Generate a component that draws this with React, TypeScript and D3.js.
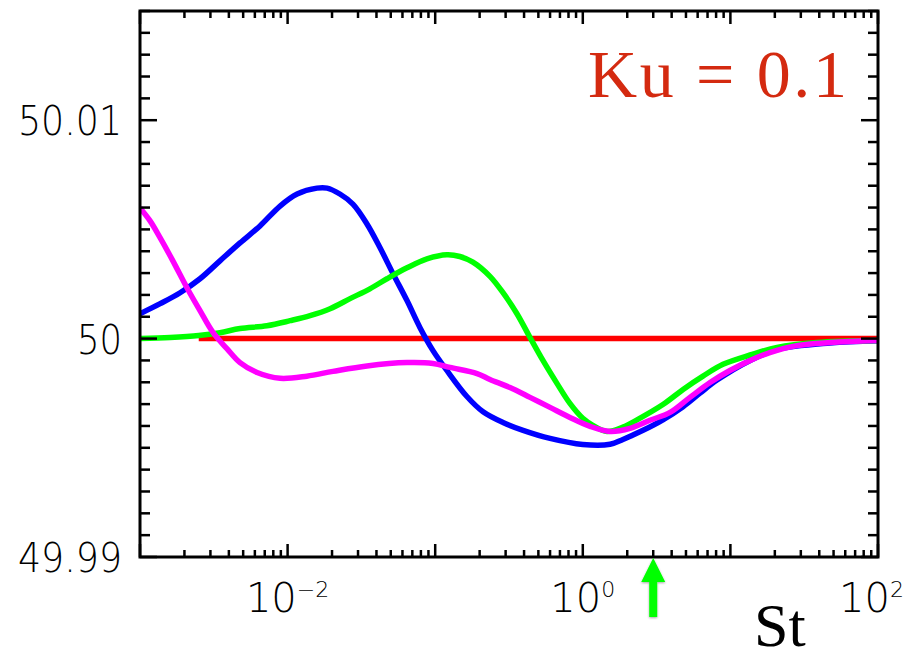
import React from 'react';
import * as d3 from 'd3';

const W = 906;
const H = 659;
const frame = { left: 140, right: 878, top: 11, bottom: 557 };

// St values and deviation from 50 (value - 50) for each curve
const blueSt = [0.001, 0.00137, 0.00187, 0.00255, 0.00348, 0.00476, 0.0065, 0.00889, 0.0116, 0.0158, 0.0185, 0.0226, 0.0277, 0.0345, 0.0423, 0.0518, 0.0644, 0.0789, 0.0966, 0.12, 0.164, 0.211, 0.288, 0.394, 0.6, 1.0, 1.53, 1.87, 2.56, 3.49, 4.78, 6.22, 8.11, 13.6, 20.7, 47.3, 100];
const blueVal = [0.00114, 0.0016, 0.0021, 0.00274, 0.00356, 0.00438, 0.00516, 0.00607, 0.00662, 0.00689, 0.00689, 0.00662, 0.00616, 0.00525, 0.00416, 0.00297, 0.00174, 0.0005, -0.00055, -0.00146, -0.00265, -0.00335, -0.00384, -0.0042, -0.00457, -0.00485, -0.00484, -0.00462, -0.0042, -0.00372, -0.00312, -0.0025, -0.0019, -0.001, -0.0005, -0.0002, -0.0001];

const greenSt = [0.001, 0.0016, 0.0025, 0.00348, 0.00476, 0.00724, 0.0104, 0.0142, 0.0194, 0.0265, 0.0361, 0.0471, 0.0644, 0.0879, 0.12, 0.147, 0.18, 0.235, 0.288, 0.358, 0.439, 0.537, 0.668, 0.818, 1.0, 1.17, 1.46, 1.87, 2.33, 3.49, 4.78, 6.52, 8.91, 13.6, 20.7, 38.6, 100];
const greenVal = [0, 0.00005, 0.00014, 0.00027, 0.00046, 0.00059, 0.00082, 0.00105, 0.00137, 0.00183, 0.00228, 0.00274, 0.00324, 0.00365, 0.00384, 0.00376, 0.0035, 0.00285, 0.0021, 0.00114, 0.00005, -0.001, -0.00205, -0.00297, -0.00365, -0.00397, -0.00425, -0.00405, -0.00372, -0.00302, -0.00233, -0.00172, -0.00118, -0.00075, -0.0004, -0.00018, -0.00009];

const magentaSt = [0.001, 0.00117, 0.00137, 0.00167, 0.00208, 0.00255, 0.00313, 0.00388, 0.00476, 0.00621, 0.00889, 0.0135, 0.0203, 0.0345, 0.0644, 0.0966, 0.126, 0.192, 0.235, 0.321, 0.439, 0.6, 0.818, 1.12, 1.53, 2.09, 2.85, 3.9, 5.32, 7.28, 9.93, 13.6, 18.5, 28.2, 47.3, 100];
const magentaVal = [0.00598, 0.00539, 0.00461, 0.00356, 0.00233, 0.00128, 0.00027, -0.00046, -0.0011, -0.00155, -0.00182, -0.00172, -0.0015, -0.00125, -0.0011, -0.00114, -0.00132, -0.0016, -0.00187, -0.00224, -0.00269, -0.00315, -0.00361, -0.00402, -0.00425, -0.00411, -0.00374, -0.00338, -0.00269, -0.00201, -0.00146, -0.001, -0.00064, -0.00032, -0.00018, -0.00009];

const redSt = [0.0025, 100];
const redVal = [0, 0];

const yLabels = [49.99, 50, 50.01];
const xLabelExp = [-2, 0, 2];
const arrowSt = 3;

const series = [
  { st: redSt, val: redVal, color: '#ff0000' },
  { st: blueSt, val: blueVal, color: '#0000ff' },
  { st: greenSt, val: greenVal, color: '#00ff00' },
  { st: magentaSt, val: magentaVal, color: '#ff00ff' },
];

const x = d3.scaleLog().domain([1e-3, 1e2]).range([frame.left, frame.right]);
const y = d3.scaleLinear().domain([49.99, 50.015]).range([frame.bottom, frame.top]);

export default function App() {
  const line = d3
    .line<[number, number]>()
    .x((d) => x(d[0]))
    .y((d) => y(50 + d[1]))
    .curve(d3.curveCatmullRom.alpha(0.5));

  const xTicks = x.ticks();
  const yTicks = d3.range(0, 26).map((i) => +(49.99 + i * 0.001).toFixed(3));
  const isMajorX = (t: number) => Math.abs(Math.log10(t) - Math.round(Math.log10(t))) < 1e-9;
  const isMajorY = (t: number) => yLabels.some((l) => Math.abs(l - t) < 1e-6);
  const labelWidth: Record<string, number> = { '49.99': 104, '50': 45, '50.01': 104 };

  const ax = x(arrowSt);

  return (
    <svg
      width={W}
      height={H}
      style={{ position: 'absolute', left: 0, top: 0, background: 'white' }}
    >
      <defs>
        <clipPath id="plot">
          <rect x={frame.left} y={frame.top} width={frame.right - frame.left} height={frame.bottom - frame.top} />
        </clipPath>
        <filter id="shadow" x="-50%" y="-50%" width="200%" height="200%">
          <feDropShadow dx="0" dy="1" stdDeviation="1.2" floodColor="#000" floodOpacity="0.35" />
        </filter>
      </defs>

      <g clipPath="url(#plot)">
        {series.map((s, i) => (
          <path
            key={i}
            d={line(s.st.map((t, j) => [t, s.val[j]]) as [number, number][]) || ''}
            fill="none"
            stroke={s.color}
            strokeWidth={5.5}
          />
        ))}
      </g>

      {/* x ticks top and bottom */}
      {xTicks.map((t, i) => {
        const len = isMajorX(t) ? 13 : 7;
        const px = x(t);
        return (
          <g key={'x' + i} stroke="#000" strokeWidth={2.5}>
            <line x1={px} x2={px} y1={frame.bottom} y2={frame.bottom - len} />
            <line x1={px} x2={px} y1={frame.top} y2={frame.top + len} />
          </g>
        );
      })}

      {/* y ticks left and right */}
      {yTicks.map((t, i) => {
        const len = isMajorY(t) ? 17 : 10;
        const py = y(t);
        return (
          <g key={'y' + i} stroke="#000" strokeWidth={2.5}>
            <line x1={frame.left} x2={frame.left + len} y1={py} y2={py} />
            <line x1={frame.right} x2={frame.right - len} y1={py} y2={py} />
          </g>
        );
      })}

      <rect
        x={frame.left}
        y={frame.top}
        width={frame.right - frame.left}
        height={frame.bottom - frame.top}
        fill="none"
        stroke="#000"
        strokeWidth={3}
      />

      {yLabels.map((v) => {
        const label = d3.format('')(v);
        return (
          <text
            key={v}
            x={122}
            y={y(v)}
            dy="0.37em"
            textAnchor="end"
            fontFamily="'DejaVu Sans', sans-serif"
            fontWeight={200}
            fontSize={41}
            fill="#000"
            textLength={labelWidth[label]}
            lengthAdjust="spacingAndGlyphs"
          >
            {label}
          </text>
        );
      })}

      {xLabelExp.map((e) => (
        <text
          key={e}
          x={e === 2 ? 904 : x(Math.pow(10, e))}
          y={612}
          textAnchor={e === 2 ? 'end' : 'middle'}
          fontFamily="'DejaVu Sans', sans-serif"
          fontWeight={200}
          fontSize={40}
          fill="#000"
        >
          10
          <tspan dy={-15} fontSize={22}>
            {e < 0 ? '\u2212' + Math.abs(e) : String(e)}
          </tspan>
        </text>
      ))}

      <text x={754} y={646} fontFamily="'Liberation Serif', serif" fontSize={62} fill="#000">
        St
      </text>

      <text
        x={588}
        y={97}
        fontFamily="'Liberation Serif', serif"
        fontSize={68}
        fill="#d42a10"
        textLength={259}
        lengthAdjust="spacing"
      >
        Ku = 0.1
      </text>

      <path
        d={`M${ax},558 L${ax + 12},582 L${ax + 4},582 L${ax + 4},617 L${ax - 4},617 L${ax - 4},582 L${ax - 12},582 Z`}
        fill="#00ff00"
        filter="url(#shadow)"
      />
    </svg>
  );
}
